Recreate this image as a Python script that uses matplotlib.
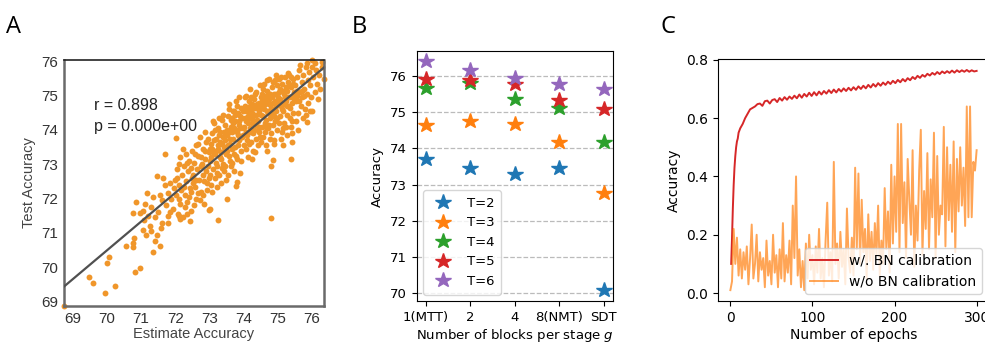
import numpy as np
import matplotlib
matplotlib.use("Agg")
import matplotlib.pyplot as plt

# ---- panel A : estimate vs test accuracy ----
pts_a = [
    # sparse low tail
    (68.74, 68.87), (69.47, 69.70), (69.58, 69.55), (69.95, 69.26), (70.24, 69.44),
    (69.99, 70.12), (70.05, 70.31), (70.82, 69.85), (70.97, 69.97), (70.57, 70.62),
    (70.77, 70.58), (70.77, 70.70), (70.79, 70.84), (70.77, 71.58), (70.84, 71.90),
    (70.96, 71.58), (71.04, 71.63), (71.09, 71.37), (71.16, 72.16), (71.05, 71.09),
    (71.36, 70.43), (71.55, 70.62), (71.45, 70.94), (71.47, 72.65), (71.69, 73.30),
    (72.01, 73.76), (73.51, 72.00), (73.24, 71.38), (74.81, 71.44), (75.39, 73.16),
    (75.17, 73.55), (74.80, 72.96), (74.87, 73.13), (75.87, 74.23), (76.01, 74.54),
    (75.59, 73.99), (75.42, 73.64), (76.36, 75.50), (76.29, 75.98), (76.00, 76.04),
    (73.80, 72.47), (73.78, 72.37), (73.54, 72.68), (73.02, 71.71), (73.00, 71.66),
    (72.43, 71.36), (72.15, 71.40), (72.10, 71.50), (71.80, 71.30), (71.85, 71.60),
    # 71 - 72
    (71.10, 71.85), (71.20, 71.50), (71.25, 71.20), (71.30, 71.75), (71.35, 72.05),
    (71.40, 71.45), (71.50, 71.60), (71.55, 72.10), (71.60, 71.30), (71.62, 71.95),
    (71.70, 72.40), (71.72, 71.80), (71.78, 72.15), (71.80, 71.50), (71.85, 72.45),
    (71.88, 72.00), (71.92, 71.70), (71.95, 72.30), (71.98, 72.55), (71.58, 71.15),
    (71.28, 71.05), (71.15, 70.95), (71.42, 70.75), (71.65, 72.60),
    # 72 - 72.5
    (72.02, 72.10), (72.05, 72.85), (72.08, 71.55), (72.10, 72.40), (72.12, 73.00),
    (72.15, 71.85), (72.18, 72.25), (72.20, 72.70), (72.22, 71.45), (72.25, 72.95),
    (72.28, 72.10), (72.30, 73.30), (72.32, 72.50), (72.35, 71.90), (72.38, 72.80),
    (72.40, 73.10), (72.42, 72.30), (72.45, 71.65), (72.48, 72.60), (72.50, 73.40),
    (72.05, 72.60), (72.15, 73.20), (72.25, 72.35), (72.35, 73.05), (72.45, 72.90),
    (72.12, 72.00), (72.28, 71.75), (72.40, 72.05), (72.22, 73.45), (72.33, 71.55),
    (72.47, 72.20),
    # 72.5 - 73
    (72.52, 72.70), (72.55, 73.05), (72.57, 72.35), (72.60, 73.55), (72.62, 72.00),
    (72.65, 72.85), (72.68, 73.25), (72.70, 72.55), (72.72, 73.80), (72.75, 72.20),
    (72.78, 73.00), (72.80, 73.45), (72.82, 72.70), (72.85, 71.85), (72.88, 73.15),
    (72.90, 73.65), (72.92, 72.45), (72.95, 72.95), (72.98, 73.35), (72.55, 71.80),
    (72.62, 72.55), (72.68, 73.60), (72.74, 72.95), (72.80, 72.10), (72.86, 73.95),
    (72.93, 72.25), (72.58, 73.30), (72.66, 72.15), (72.76, 73.20), (72.84, 72.50),
    (72.96, 73.75), (72.53, 72.45), (72.71, 71.95), (72.89, 72.80), (72.99, 72.60),
    # 73 - 73.5
    (73.02, 73.10), (73.04, 73.60), (73.06, 72.40), (73.08, 73.90), (73.10, 72.85),
    (73.12, 73.35), (73.14, 74.20), (73.16, 72.60), (73.18, 73.05), (73.20, 73.75),
    (73.22, 72.95), (73.24, 74.05), (73.26, 73.45), (73.28, 72.70), (73.30, 73.20),
    (73.32, 73.95), (73.34, 72.45), (73.36, 73.60), (73.38, 74.30), (73.40, 73.00),
    (73.42, 73.50), (73.44, 72.80), (73.46, 74.15), (73.48, 73.30), (73.05, 73.20),
    (73.09, 72.20), (73.13, 73.70), (73.17, 74.00), (73.21, 72.35), (73.25, 73.55),
    (73.29, 73.85), (73.33, 73.15), (73.37, 72.90), (73.41, 74.45), (73.45, 73.70),
    (73.49, 72.55), (73.03, 72.70), (73.11, 74.25), (73.19, 73.40), (73.27, 74.35),
    (73.35, 73.35), (73.43, 73.95), (73.07, 73.45), (73.23, 72.75), (73.39, 73.80),
    (73.47, 72.95),
    # 73.5 - 74
    (73.52, 73.85), (73.54, 74.40), (73.56, 73.25), (73.58, 74.75), (73.60, 73.60),
    (73.62, 72.95), (73.64, 74.10), (73.66, 73.45), (73.68, 74.55), (73.70, 73.75),
    (73.72, 72.80), (73.74, 74.25), (73.76, 73.50), (73.78, 74.85), (73.80, 73.95),
    (73.82, 73.15), (73.84, 74.50), (73.86, 73.70), (73.88, 74.15), (73.90, 72.75),
    (73.92, 74.65), (73.94, 73.40), (73.96, 74.35), (73.98, 73.85), (73.53, 74.00),
    (73.57, 74.60), (73.61, 73.10), (73.65, 73.95), (73.69, 74.20), (73.73, 73.30),
    (73.77, 74.00), (73.81, 74.70), (73.85, 73.55), (73.89, 74.40), (73.93, 73.10),
    (73.97, 74.05), (73.55, 73.55), (73.63, 74.30), (73.71, 74.05), (73.79, 73.25),
    (73.87, 74.95), (73.95, 73.80), (73.59, 73.75), (73.67, 73.05), (73.75, 74.45),
    (73.83, 73.85), (73.91, 74.05), (73.99, 74.55),
    # 74 - 74.5
    (74.02, 74.10), (74.04, 74.70), (74.06, 73.45), (74.08, 75.00), (74.10, 73.85),
    (74.12, 74.40), (74.14, 73.20), (74.16, 74.85), (74.18, 74.05), (74.20, 75.20),
    (74.22, 73.65), (74.24, 74.50), (74.26, 74.20), (74.28, 73.40), (74.30, 74.90),
    (74.32, 74.00), (74.34, 74.65), (74.36, 73.75), (74.38, 75.10), (74.40, 74.30),
    (74.42, 73.55), (74.44, 74.80), (74.46, 74.10), (74.48, 75.30), (74.03, 74.35),
    (74.07, 73.95), (74.11, 74.60), (74.15, 73.60), (74.19, 74.35), (74.23, 74.95),
    (74.27, 73.90), (74.31, 74.45), (74.35, 73.35), (74.39, 74.75), (74.43, 74.25),
    (74.47, 73.80), (74.05, 74.95), (74.13, 74.20), (74.21, 73.95), (74.29, 74.65),
    (74.37, 74.15), (74.45, 74.55), (74.09, 73.70), (74.17, 74.55), (74.25, 73.15),
    (74.33, 75.05), (74.41, 74.00), (74.49, 74.65), (74.01, 73.55), (74.25, 74.75),
    (74.45, 73.95),
    # 74.5 - 75
    (74.52, 74.45), (74.54, 75.05), (74.56, 73.80), (74.58, 74.70), (74.60, 75.35),
    (74.62, 74.20), (74.64, 74.90), (74.66, 73.55), (74.68, 74.55), (74.70, 75.15),
    (74.72, 74.05), (74.74, 74.75), (74.76, 75.50), (74.78, 74.35), (74.80, 73.90),
    (74.82, 74.95), (74.84, 75.25), (74.86, 74.50), (74.88, 73.70), (74.90, 75.05),
    (74.92, 74.25), (74.94, 75.60), (74.96, 74.70), (74.98, 74.00), (74.53, 74.10),
    (74.57, 75.20), (74.61, 74.60), (74.65, 74.30), (74.69, 75.45), (74.73, 74.50),
    (74.77, 73.75), (74.81, 74.65), (74.85, 75.40), (74.89, 74.40), (74.93, 74.85),
    (74.97, 75.30), (74.55, 74.85), (74.63, 73.95), (74.71, 74.85), (74.79, 75.05),
    (74.87, 74.15), (74.95, 74.55), (74.59, 74.95), (74.67, 75.00), (74.75, 74.15),
    (74.83, 74.40), (74.91, 75.45), (74.99, 74.80), (74.51, 73.65), (74.70, 73.40),
    (74.90, 73.60),
    # 75 - 75.5
    (75.02, 74.95), (75.04, 75.50), (75.06, 74.40), (75.08, 75.20), (75.10, 74.70),
    (75.12, 73.95), (75.14, 75.35), (75.16, 74.55), (75.18, 75.05), (75.20, 74.20),
    (75.22, 75.55), (75.24, 74.85), (75.26, 75.15), (75.28, 74.45), (75.30, 75.40),
    (75.32, 74.70), (75.34, 75.60), (75.36, 74.95), (75.38, 74.10), (75.40, 75.25),
    (75.42, 74.80), (75.44, 75.50), (75.46, 74.50), (75.48, 75.10), (75.03, 74.20),
    (75.07, 74.90), (75.11, 75.55), (75.15, 74.05), (75.19, 74.75), (75.23, 75.25),
    (75.27, 73.85), (75.31, 74.95), (75.35, 74.35), (75.39, 75.55), (75.43, 74.25),
    (75.47, 74.90), (75.05, 75.10), (75.13, 74.60), (75.21, 74.95), (75.29, 75.65),
    (75.37, 74.65), (75.45, 75.00), (75.09, 73.75), (75.25, 74.10), (75.41, 73.90),
    # 75.5 - 76.3
    (75.52, 75.30), (75.55, 74.85), (75.58, 75.55), (75.60, 74.50), (75.62, 75.75),
    (75.65, 75.10), (75.68, 74.70), (75.70, 75.40), (75.72, 74.95), (75.75, 75.60),
    (75.78, 75.20), (75.80, 74.60), (75.82, 75.85), (75.85, 75.05), (75.88, 75.45),
    (75.90, 74.80), (75.92, 75.70), (75.95, 75.30), (75.98, 74.95), (76.00, 75.85),
    (76.05, 75.55), (76.08, 75.10), (76.12, 75.75), (76.15, 75.35), (76.18, 74.90),
    (76.22, 75.60), (76.25, 75.20), (76.30, 75.85), (75.54, 74.25), (75.66, 75.90),
    (75.74, 74.35), (75.86, 75.95), (75.96, 74.55), (76.10, 75.95), (75.57, 75.00),
    (75.63, 74.85), (75.77, 75.00), (75.83, 74.45),
    # extra fill for the dense core
    (73.15, 73.30), (73.31, 73.65), (73.51, 73.40), (73.66, 74.35), (73.86, 74.25),
    (74.06, 74.25), (74.18, 74.70), (74.36, 74.45), (74.56, 74.40), (74.62, 74.75),
    (74.76, 74.90), (74.86, 74.80), (74.96, 75.05), (75.06, 74.75), (75.16, 75.15),
    (75.26, 74.70), (75.36, 75.30), (75.46, 75.35), (75.56, 75.15), (75.71, 75.15),
    (74.28, 74.30), (74.08, 74.55), (73.72, 74.55), (73.46, 73.45), (73.01, 73.45),
    (72.87, 73.40), (73.57, 73.95), (74.52, 74.95), (74.66, 74.10), (74.98, 74.35),
]

# ---- panel B : accuracy vs blocks per stage ----
groups = ["1(MTT)", "2", "4", "8(NMT)", "SDT"]
acc_T = {
    "T=2": [73.70, 73.47, 73.30, 73.47, 70.10],
    "T=3": [74.65, 74.75, 74.67, 74.17, 72.77],
    "T=4": [75.67, 75.80, 75.37, 75.12, 74.17],
    "T=5": [75.93, 75.88, 75.77, 75.33, 75.10],
    "T=6": [76.42, 76.18, 75.95, 75.78, 75.63],
}

# ---- panel C : training curves ----
red_epochs = list(range(1, 11)) + list(range(12, 301, 3))
red_acc = [
    0.10, 0.19, 0.29, 0.37, 0.43, 0.47, 0.50, 0.52, 0.53, 0.55,
    0.565, 0.58, 0.60, 0.615, 0.63, 0.635, 0.64, 0.648, 0.65, 0.642,
    0.658, 0.66, 0.650, 0.662, 0.665, 0.655, 0.669, 0.660, 0.672, 0.663,
    0.674, 0.666, 0.677, 0.668, 0.681, 0.670, 0.683, 0.674, 0.687, 0.676,
    0.689, 0.678, 0.691, 0.681, 0.693, 0.684, 0.696, 0.686, 0.698, 0.688,
    0.700, 0.691, 0.702, 0.693, 0.704, 0.695, 0.706, 0.697, 0.709, 0.700,
    0.711, 0.702, 0.714, 0.705, 0.717, 0.708, 0.720, 0.711, 0.722, 0.714,
    0.725, 0.717, 0.728, 0.720, 0.731, 0.723, 0.734, 0.726, 0.737, 0.730,
    0.741, 0.734, 0.745, 0.738, 0.748, 0.742, 0.752, 0.746, 0.755, 0.749,
    0.758, 0.751, 0.760, 0.754, 0.761, 0.755, 0.763, 0.756, 0.764, 0.758,
    0.764, 0.759, 0.765, 0.759, 0.764, 0.760, 0.762,
]
orange_epochs = list(range(0, 301, 2))
orange_acc = [
    0.01, 0.04, 0.22, 0.10, 0.19, 0.06, 0.15, 0.05, 0.14, 0.08,
    0.16, 0.03, 0.12, 0.235, 0.05, 0.10, 0.20, 0.04, 0.14, 0.08,
    0.12, 0.02, 0.18, 0.06, 0.11, 0.03, 0.20, 0.07, 0.13, 0.02,
    0.15, 0.05, 0.24, 0.04, 0.13, 0.07, 0.18, 0.03, 0.30, 0.12,
    0.40, 0.06, 0.15, 0.02, 0.11, 0.01, 0.17, 0.05, 0.20, 0.08,
    0.13, 0.03, 0.16, 0.07, 0.22, 0.05, 0.12, 0.02, 0.18, 0.31,
    0.06, 0.14, 0.04, 0.45, 0.10, 0.17, 0.05, 0.21, 0.09, 0.15,
    0.03, 0.29, 0.12, 0.07, 0.19, 0.06, 0.43, 0.15, 0.41, 0.10,
    0.32, 0.14, 0.22, 0.05, 0.27, 0.11, 0.21, 0.08, 0.24, 0.13,
    0.30, 0.06, 0.18, 0.10, 0.36, 0.15, 0.28, 0.07, 0.44, 0.17,
    0.40, 0.21, 0.58, 0.14, 0.58, 0.24, 0.38, 0.12, 0.46, 0.32,
    0.20, 0.49, 0.09, 0.30, 0.18, 0.42, 0.56, 0.13, 0.35, 0.22,
    0.48, 0.15, 0.39, 0.26, 0.55, 0.12, 0.47, 0.20, 0.30, 0.27,
    0.57, 0.16, 0.50, 0.25, 0.44, 0.21, 0.52, 0.14, 0.46, 0.28,
    0.50, 0.30, 0.43, 0.23, 0.64, 0.26, 0.64, 0.26, 0.45, 0.42,
    0.49,
]

fig = plt.figure(figsize=(9.85, 3.43), dpi=100)

# ================= A =================
axA = fig.add_axes([0.065, 0.108, 0.264, 0.717])
xs = np.array([p[0] for p in pts_a])
ys = np.array([p[1] for p in pts_a])
axA.scatter(xs, ys, s=18, color="#f0962a", linewidths=0, zorder=2, clip_on=False)
k, b = np.polyfit(xs, ys, 1)
xl = np.array([xs.min(), xs.max()])
axA.plot(xl, k * xl + b, color="#505050", lw=1.6, zorder=3)
axA.set_xlim(xs.min(), xs.max())
axA.set_ylim(ys.min(), ys.max())
axA.set_xticks(range(69, 77))
axA.set_yticks(range(69, 77))
for sp_name in ["left", "bottom", "right"]:
    axA.spines[sp_name].set_color("#6a6a6a")
    axA.spines[sp_name].set_linewidth(1.8)
axA.spines["top"].set_color("#222222")
axA.spines["top"].set_linewidth(1.2)
axA.tick_params(length=0, labelsize=11, labelcolor="#333333", pad=4)
for lab in axA.get_xticklabels() + axA.get_yticklabels():
    lab.set_family("Liberation Sans")
axA.set_xlabel("Estimate Accuracy", family="Liberation Sans", fontsize=10.5,
               color="#444444", labelpad=1)
axA.set_ylabel("Test Accuracy", family="Liberation Sans", fontsize=10.5,
               color="#444444", labelpad=4)
axA.text(0.115, 0.817, "r = 0.898", transform=axA.transAxes, fontsize=11.5,
         family="Liberation Sans", color="#222222", va="center")
axA.text(0.115, 0.728, "p = 0.000e+00", transform=axA.transAxes, fontsize=11.5,
         family="Liberation Sans", color="#222222", va="center")

# ================= B =================
axB = fig.add_axes([0.423, 0.122, 0.199, 0.729])
xpos = np.arange(len(groups))
for lab, vals in acc_T.items():
    axB.plot(xpos, vals, ls="", marker="*", ms=11.5, label=lab)
axB.set_xticks(xpos)
axB.set_xticklabels(groups)
axB.set_yticks(range(70, 77))
axB.set_ylim(69.78, 76.69)
axB.yaxis.grid(True, ls="--", color="#bbbbbb", lw=0.9)
axB.set_axisbelow(True)
axB.tick_params(labelsize=9.5)
axB.set_xlabel("Number of blocks per stage $g$", fontsize=9.5, labelpad=2)
axB.set_ylabel("Accuracy", fontsize=9.5)
axB.legend(loc="lower left", fontsize=9.5, handletextpad=0.8, borderpad=0.5)

# ================= C =================
axC = fig.add_axes([0.729, 0.122, 0.275, 0.706])
axC.plot(red_epochs, red_acc, color="#d62728", lw=1.4, label="w/. BN calibration")
axC.plot(orange_epochs, orange_acc, color="#ff7f0e", alpha=0.7, lw=1.4,
         label="w/o BN calibration")
axC.set_xticks([0, 100, 200, 300])
axC.set_yticks([0.0, 0.2, 0.4, 0.6, 0.8])
axC.tick_params(labelsize=10)
axC.set_xlabel("Number of epochs", fontsize=10, labelpad=2)
axC.set_ylabel("Accuracy", fontsize=10)
axC.legend(loc="lower right", fontsize=10)

# panel letters
fig.text(0.006, 0.955, "A", fontsize=17, family="Open Sans", va="top")
fig.text(0.357, 0.955, "B", fontsize=17, family="Open Sans", va="top")
fig.text(0.671, 0.955, "C", fontsize=17, family="Open Sans", va="top")

fig.savefig("out.png", dpi=100)
